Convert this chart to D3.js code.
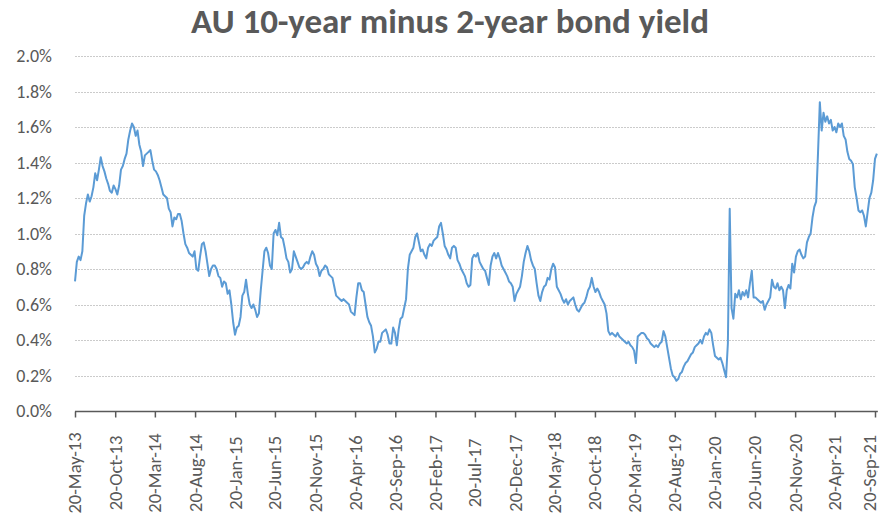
<!DOCTYPE html>
<html>
<head>
<meta charset="utf-8">
<script src="https://cdn.jsdelivr.net/npm/d3@7"></script>
<style>
  body { margin: 0; background: #fff; }
  svg text { font-family: Carlito, Lato, "Open Sans", sans-serif; fill: #595959; }
  .grid line { stroke: #cbcbcb; stroke-width: 1; stroke-dasharray: 2,1; }
  .x-axis path, .x-axis line { stroke: #595959; }
</style>
</head>
<body>
<svg id="chart"></svg>
<script>
// AU 10y - 2y spread, weekly readings (%) starting 20-May-13
const startDate = '2013-05-20';
const spread = [
  0.73, 0.84, 0.87, 0.85, 0.90, 1.10, 1.17, 1.22, 1.18, 1.21,
  1.26, 1.34, 1.30, 1.36, 1.43, 1.38, 1.35, 1.31, 1.28, 1.24,
  1.23, 1.27, 1.25, 1.22, 1.27, 1.36, 1.38, 1.42, 1.45, 1.53,
  1.58, 1.62, 1.60, 1.55, 1.58, 1.50, 1.46, 1.38, 1.44, 1.45,
  1.46, 1.47, 1.41, 1.36, 1.35, 1.33, 1.30, 1.26, 1.22, 1.21,
  1.20, 1.14, 1.12, 1.04, 1.09, 1.08, 1.11, 1.11, 1.07, 1.00,
  0.94, 0.92, 0.89, 0.88, 0.87, 0.90, 0.80, 0.79, 0.87, 0.94,
  0.95, 0.90, 0.83, 0.76, 0.80, 0.82, 0.82, 0.80, 0.76, 0.75,
  0.70, 0.73, 0.72, 0.66, 0.68, 0.60, 0.50, 0.43, 0.47, 0.48,
  0.53, 0.65, 0.67, 0.74, 0.66, 0.60, 0.58, 0.60, 0.57, 0.53,
  0.55, 0.68, 0.79, 0.90, 0.92, 0.89, 0.82, 0.80, 1.00, 1.02,
  0.99, 1.06, 0.98, 0.97, 0.92, 0.86, 0.84, 0.78, 0.80, 0.90,
  0.87, 0.84, 0.81, 0.80, 0.81, 0.83, 0.84, 0.83, 0.87, 0.90,
  0.88, 0.83, 0.81, 0.76, 0.79, 0.80, 0.82, 0.81, 0.77, 0.76,
  0.75, 0.70, 0.65, 0.64, 0.63, 0.62, 0.63, 0.62, 0.61, 0.60,
  0.56, 0.55, 0.54, 0.64, 0.72, 0.72, 0.68, 0.67, 0.60, 0.53,
  0.50, 0.48, 0.42, 0.33, 0.35, 0.39, 0.39, 0.44, 0.45, 0.46,
  0.43, 0.38, 0.38, 0.47, 0.44, 0.37, 0.46, 0.52, 0.53, 0.58,
  0.63, 0.80, 0.88, 0.90, 0.92, 0.98, 1.00, 0.95, 0.90, 0.91,
  0.88, 0.86, 0.92, 0.94, 0.93, 0.96, 0.97, 0.98, 1.04, 1.06,
  1.00, 0.93, 0.91, 0.88, 0.86, 0.92, 0.93, 0.92, 0.85, 0.83,
  0.80, 0.78, 0.76, 0.72, 0.70, 0.71, 0.86, 0.88, 0.87, 0.89,
  0.84, 0.82, 0.80, 0.79, 0.75, 0.71, 0.82, 0.87, 0.89, 0.86,
  0.89, 0.86, 0.82, 0.80, 0.78, 0.76, 0.73, 0.72, 0.70, 0.62,
  0.66, 0.68, 0.70, 0.76, 0.84, 0.89, 0.93, 0.90, 0.85, 0.82,
  0.80, 0.72, 0.65, 0.62, 0.67, 0.70, 0.71, 0.75, 0.74, 0.80,
  0.83, 0.81, 0.70, 0.68, 0.66, 0.63, 0.61, 0.63, 0.60, 0.62,
  0.63, 0.64, 0.60, 0.57, 0.56, 0.58, 0.60, 0.61, 0.64, 0.68,
  0.70, 0.75, 0.70, 0.67, 0.69, 0.67, 0.64, 0.62, 0.60, 0.55,
  0.45, 0.43, 0.44, 0.43, 0.42, 0.44, 0.42, 0.41, 0.40, 0.39,
  0.38, 0.39, 0.37, 0.36, 0.34, 0.27, 0.42, 0.43, 0.44, 0.44,
  0.43, 0.41, 0.40, 0.38, 0.37, 0.36, 0.37, 0.36, 0.38, 0.39,
  0.45, 0.42, 0.36, 0.30, 0.24, 0.20, 0.19, 0.17, 0.18, 0.21,
  0.22, 0.25, 0.27, 0.28, 0.30, 0.32, 0.33, 0.36, 0.37, 0.38,
  0.40, 0.38, 0.42, 0.44, 0.43, 0.46, 0.44, 0.37, 0.31, 0.30,
  0.29, 0.30, 0.27, 0.23, 0.19, 0.38, 1.14, 0.58, 0.52, 0.66,
  0.64, 0.68, 0.63, 0.67, 0.65, 0.68, 0.64, 0.72, 0.79, 0.64,
  0.64, 0.63, 0.62, 0.61, 0.62, 0.57, 0.60, 0.62, 0.64, 0.74,
  0.70, 0.69, 0.72, 0.68, 0.70, 0.68, 0.58, 0.68, 0.71, 0.69,
  0.83, 0.78, 0.87, 0.90, 0.91, 0.88, 0.86, 0.87, 0.95, 0.98,
  1.00, 1.09, 1.15, 1.18, 1.45, 1.74, 1.58, 1.68, 1.63, 1.66,
  1.62, 1.64, 1.58, 1.60, 1.57, 1.62, 1.60, 1.62, 1.55, 1.53,
  1.46, 1.42, 1.41, 1.39, 1.26, 1.20, 1.13, 1.12, 1.13, 1.10,
  1.04, 1.12, 1.20, 1.23, 1.30, 1.42, 1.45
];
const xTickLabels = [
  '20-May-13', '20-Oct-13', '20-Mar-14', '20-Aug-14', '20-Jan-15', '20-Jun-15', '20-Nov-15',
  '20-Apr-16', '20-Sep-16', '20-Feb-17', '20-Jul-17', '20-Dec-17', '20-May-18', '20-Oct-18',
  '20-Mar-19', '20-Aug-19', '20-Jan-20', '20-Jun-20', '20-Nov-20', '20-Apr-21', '20-Sep-21'
];
const yTickValues = [0, 0.2, 0.4, 0.6, 0.8, 1.0, 1.2, 1.4, 1.6, 1.8, 2.0];
const title = 'AU 10-year minus 2-year bond yield';

const width = 881, height = 524;
const margin = { top: 56, right: 6, bottom: 113, left: 75 };

const parseTick = d3.timeParse('%d-%b-%y');
const tickDates = xTickLabels.map(parseTick);
const start = d3.timeParse('%Y-%m-%d')(startDate);
const data = spread.map((v, i) => ({ date: d3.timeDay.offset(start, i * 7), value: v }));

const svg = d3.select('#chart').attr('width', width).attr('height', height);

const x = d3.scaleTime()
  .domain([tickDates[0], tickDates[tickDates.length - 1]])
  .range([margin.left, 875]);
const y = d3.scaleLinear()
  .domain([0, 2])
  .range([height - margin.bottom, margin.top]);

// title
svg.append('text')
  .attr('x', 450)
  .attr('y', 33)
  .attr('text-anchor', 'middle')
  .style('font-size', '35px')
  .style('font-weight', 'bold')
  .text(title);

// gridlines
svg.append('g').attr('class', 'grid')
  .selectAll('line')
  .data(yTickValues.filter(d => d > 0))
  .join('line')
  .attr('x1', margin.left).attr('x2', 876)
  .attr('y1', d => Math.round(y(d)) + 0.5)
  .attr('y2', d => Math.round(y(d)) + 0.5);

// y labels
svg.append('g')
  .selectAll('text')
  .data(yTickValues)
  .join('text')
  .attr('x', 52)
  .attr('y', d => y(d))
  .attr('dy', '0.35em')
  .attr('text-anchor', 'end')
  .style('font-size', '18px')
  .text(d => d.toFixed(1) + '%');

// x axis
const lastX = x(data[data.length - 1].date) + 1;
const xAxis = d3.axisBottom(x).tickValues(tickDates).tickSize(6).tickSizeOuter(0).tickFormat('');
const xAxisG = svg.append('g')
  .attr('class', 'x-axis')
  .attr('transform', `translate(0,${ Math.round(y(0)) + 0.5 })`)
  .call(xAxis);
xAxisG.select('.domain').attr('d', `M${ margin.left },0H${ lastX }`).attr('stroke-width', 1.5);
xAxisG.selectAll('.tick line').attr('stroke-width', 1.5);

// rotated date labels, last one nudged in so it stays on the canvas
svg.append('g')
  .selectAll('text')
  .data(tickDates)
  .join('text')
  .attr('transform', d => `translate(${ Math.min(x(d), width - 11) },473) rotate(-90)`)
  .attr('text-anchor', 'middle')
  .attr('dy', '0.35em')
  .style('font-size', '18.5px')
  .text((d, i) => xTickLabels[i]);

// line
const line = d3.line()
  .x(d => x(d.date))
  .y(d => y(d.value));

svg.append('path')
  .datum(data)
  .attr('fill', 'none')
  .attr('stroke', '#5b9bd5')
  .attr('stroke-width', 2)
  .attr('stroke-linejoin', 'round')
  .attr('d', line);
</script>
</body>
</html>
